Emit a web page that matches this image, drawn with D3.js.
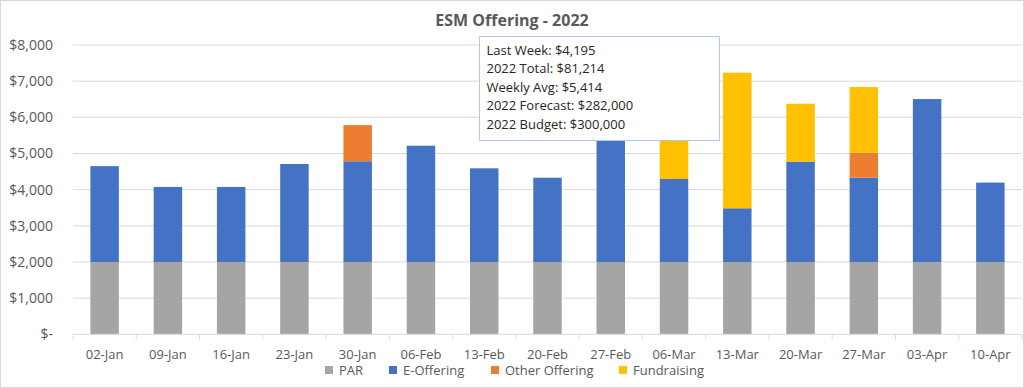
<!DOCTYPE html>
<html lang="en">
<head>
<meta charset="UTF-8">
<script src="https://d3js.org/d3.v7.min.js"></script>
<title>ESM Offering - 2022</title>
<style>
  html, body { margin: 0; padding: 0; background: #fff; }
  svg { display: block; font-family: "Open Sans", "Noto Sans", sans-serif; }
</style>
</head>
<body>
<svg id="chart" width="1024" height="388"></svg>
<script>
// weeks
const weeks = ["02-Jan", "09-Jan", "16-Jan", "23-Jan", "30-Jan", "06-Feb", "13-Feb", "20-Feb",
               "27-Feb", "06-Mar", "13-Mar", "20-Mar", "27-Mar", "03-Apr", "10-Apr"];

// series values ($)
const par         = [2000, 2000, 2000, 2000, 2000, 2000, 2000, 2000, 2000, 2000, 2000, 2000, 2000, 2000, 2000];
const eOffering   = [2650, 2075, 2075, 2710, 2785, 3215, 2590, 2330, 4380, 2295, 1485, 2775, 2330, 4505, 2195];
const otherOffer  = [0, 0, 0, 0, 1000, 0, 0, 0, 0, 0, 0, 0, 690, 0, 0];
const fundraising = [0, 0, 0, 0, 0, 0, 0, 0, 0, 1980, 3750, 1600, 1820, 0, 0];

const seriesNames = ["PAR", "E-Offering", "Other Offering", "Fundraising"];
const seriesColors = ["#A5A5A5", "#4472C4", "#ED7D31", "#FFC000"];

const yTicks = [0, 1000, 2000, 3000, 4000, 5000, 6000, 7000, 8000];

const summaryLines = [
  "Last Week: $4,195",
  "2022 Total: $81,214",
  "Weekly Avg: $5,414",
  "2022 Forecast: $282,000",
  "2022 Budget: $300,000"
];

const rows = weeks.map((w, i) => ({
  week: w,
  "PAR": par[i],
  "E-Offering": eOffering[i],
  "Other Offering": otherOffer[i],
  "Fundraising": fundraising[i]
}));

const svg = d3.select("#chart");
const W = 1024, H = 388;
const textColor = "#595959";

// outer chart border
svg.append("rect")
  .attr("x", 0.5).attr("y", 0.5)
  .attr("width", W - 1).attr("height", H - 1)
  .attr("fill", "#fff").attr("stroke", "#d9d9d9");

const plot = { left: 73, right: 1022, top: 45, bottom: 334.3 };

const x = d3.scaleBand()
  .domain(weeks)
  .range([plot.left, plot.right])
  .paddingInner(0.55)
  .paddingOuter(0.275);

const y = d3.scaleLinear()
  .domain([0, 8000])
  .range([plot.bottom, plot.top]);

// gridlines
svg.append("g")
  .selectAll("line")
  .data(yTicks.filter(d => d > 0))
  .join("line")
  .attr("x1", plot.left).attr("x2", plot.right)
  .attr("y1", d => y(d)).attr("y2", d => y(d))
  .attr("stroke", "#d9d9d9").attr("stroke-width", 1);

// y axis labels
const fmt = d3.format(",");
svg.append("g")
  .selectAll("text")
  .data(yTicks)
  .join("text")
  .attr("x", 53)
  .attr("y", d => y(d))
  .attr("dy", "0.35em")
  .attr("text-anchor", "end")
  .attr("fill", textColor)
  .attr("font-size", 14)
  .text(d => d === 0 ? "$-" : "$" + fmt(d));

// stacked bars
const stack = d3.stack().keys(seriesNames);
const stacked = stack(rows);

svg.append("g")
  .selectAll("g")
  .data(stacked)
  .join("g")
  .attr("fill", (d, i) => seriesColors[i])
  .selectAll("rect")
  .data(d => d.map(v => Object.assign(v, { week: v.data.week })))
  .join("rect")
  .attr("x", d => x(d.week))
  .attr("width", x.bandwidth())
  .attr("y", d => y(d[1]))
  .attr("height", d => Math.max(0, y(d[0]) - y(d[1])));

// x axis line and category ticks
const xAxis = svg.append("g");
xAxis.append("line")
  .attr("x1", plot.left).attr("x2", plot.right)
  .attr("y1", plot.bottom).attr("y2", plot.bottom)
  .attr("stroke", "#d9d9d9");
xAxis.selectAll("line.tick")
  .data(d3.range(weeks.length + 1))
  .join("line")
  .attr("class", "tick")
  .attr("x1", i => plot.left + i * x.step())
  .attr("x2", i => plot.left + i * x.step())
  .attr("y1", plot.bottom).attr("y2", plot.bottom + 5)
  .attr("stroke", "#d9d9d9");
xAxis.selectAll("text")
  .data(weeks)
  .join("text")
  .attr("x", d => x(d) + x.bandwidth() / 2)
  .attr("y", 354)
  .attr("dy", "0.35em")
  .attr("text-anchor", "middle")
  .attr("fill", textColor)
  .attr("font-size", 13)
  .text(d => d);

// title
svg.append("text")
  .attr("x", 512).attr("y", 20)
  .attr("dy", "0.35em")
  .attr("text-anchor", "middle")
  .attr("fill", textColor)
  .attr("font-size", 16)
  .attr("font-weight", "bold")
  .text("ESM Offering - 2022");

// legend
const legendX = [325, 389, 491, 619];
const legend = svg.append("g")
  .selectAll("g")
  .data(seriesNames)
  .join("g")
  .attr("transform", (d, i) => `translate(${legendX[i]},370)`);
legend.append("rect")
  .attr("x", 0).attr("y", -4)
  .attr("width", 8).attr("height", 8)
  .attr("fill", (d, i) => seriesColors[i]);
legend.append("text")
  .attr("x", 14).attr("y", 0)
  .attr("dy", "0.35em")
  .attr("fill", textColor)
  .attr("font-size", 13)
  .text(d => d);

// summary text box
const box = svg.append("g").attr("transform", "translate(479.5,36.5)");
box.append("rect")
  .attr("width", 240).attr("height", 104)
  .attr("fill", "#fff")
  .attr("stroke", "#b4c7e7");
box.selectAll("text")
  .data(summaryLines)
  .join("text")
  .attr("x", 7)
  .attr("y", (d, i) => 13.5 + i * 18.5)
  .attr("dy", "0.35em")
  .attr("fill", "#262626")
  .attr("font-size", 13)
  .text(d => d);
</script>
</body>
</html>
